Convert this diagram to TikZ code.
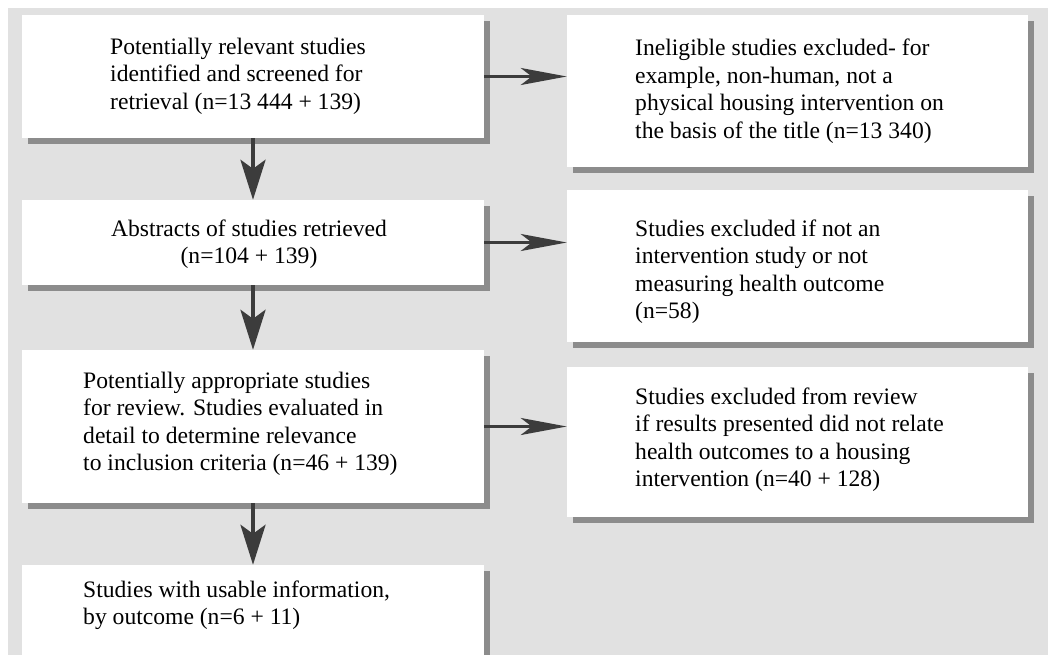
\documentclass[tikz,border=0pt]{standalone}
\usepackage{fontspec}
\setmainfont{Liberation Serif}
\usetikzlibrary{arrows.meta,shadows}
\definecolor{bggray}{RGB}{225,225,225}
\definecolor{shgray}{RGB}{140,140,140}
\definecolor{arrowgray}{RGB}{60,60,60}
\tikzset{
  flowbox/.style={rectangle, fill=white, draw=none, inner sep=0pt,
    drop shadow={shadow xshift=6pt, shadow yshift=-6pt, fill=shgray, opacity=1}},
  boxtext/.style={inner sep=0pt, text=black, font=\fontsize{23.6}{27.5}\selectfont},
  downarrow/.style={draw=arrowgray, line width=4pt,
    -{Stealth[length=40pt, width=25pt, inset=9pt]}},
  sidearrow/.style={draw=arrowgray, line width=3.5pt,
    -{Stealth[length=46pt, width=17pt, inset=11pt]}}
}
\begin{document}
\begin{tikzpicture}[x=1pt,y=-1pt]
\useasboundingbox (0,0) rectangle (1048,655);
\clip (0,0) rectangle (1048,655);
\fill[white] (0,0) rectangle (1048,655);
\fill[bggray] (8,8) rectangle (1048,655);

% left column boxes
\node[flowbox, minimum width=462pt, minimum height=123pt] (b1) at (253,76.5) {};
\node[flowbox, minimum width=462pt, minimum height=85pt] (b2) at (253,242.5) {};
\node[flowbox, minimum width=462pt, minimum height=153pt] (b3) at (253,426.5) {};
\node[flowbox, minimum width=462pt, minimum height=110pt] (b4) at (253,620) {};

% right column boxes
\node[flowbox, minimum width=461pt, minimum height=152pt] (r1) at (797.5,91) {};
\node[flowbox, minimum width=461pt, minimum height=152pt] (r2) at (797.5,266) {};
\node[flowbox, minimum width=461pt, minimum height=150pt] (r3) at (797.5,442) {};

% texts
\node[boxtext, anchor=west, align=left] (t1) at (110,76) {Potentially relevant studies\\identified and screened for\\retrieval (n=13 444 + 139)};
\node[boxtext, anchor=center, align=center] (t2) at (249,244) {Abstracts of studies retrieved\\(n=104 + 139)};
\node[boxtext, anchor=west, align=left] (t3) at (83,424) {Potentially appropriate studies\\for review. Studies evaluated in\\detail to determine relevance\\to inclusion criteria (n=46 + 139)};
\node[boxtext, anchor=west, align=left] (t4) at (83,605) {Studies with usable information,\\by outcome (n=6 + 11)};
\node[boxtext, anchor=west, align=left] (s1) at (635,91) {Ineligible studies excluded- for\\example, non-human, not a\\physical housing intervention on\\the basis of the title (n=13 340)};
\node[boxtext, anchor=west, align=left] (s2) at (635,271.5) {Studies excluded if not an\\intervention study or not\\measuring health outcome\\(n=58)};
\node[boxtext, anchor=west, align=left] (s3) at (635,439.5) {Studies excluded from review\\if results presented did not relate\\health outcomes to a housing\\intervention (n=40 + 128)};

% arrows
\draw[downarrow] (b1.south) -- (b2.north);
\draw[downarrow] (b2.south) -- (b3.north);
\draw[downarrow] (b3.south) -- (b4.north);
\draw[sidearrow] (b1.east) -- (b1.east -| r1.west);
\draw[sidearrow] (b2.east) -- (b2.east -| r2.west);
\draw[sidearrow] (b3.east) -- (b3.east -| r3.west);
\end{tikzpicture}
\end{document}
